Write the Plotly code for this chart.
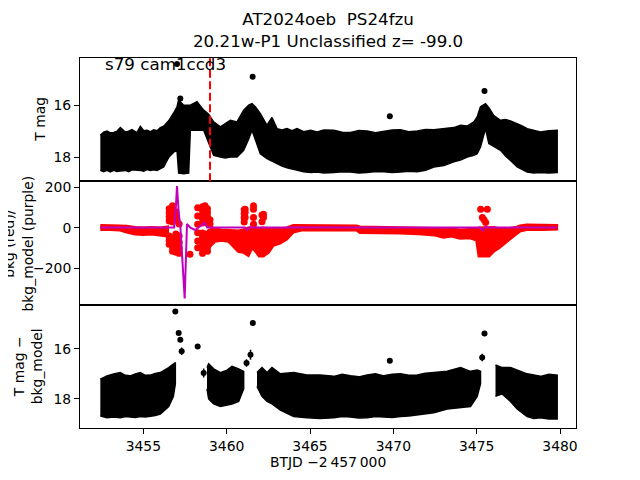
import plotly.graph_objects as go
from plotly.subplots import make_subplots

# ---------------- Top panel: T mag (dense light curve envelope) ----------------
top_t = [3452.42, 3452.62, 3452.82, 3453.02, 3453.22, 3453.42, 3453.62, 3453.92, 3454.12, 3454.32,
         3454.62, 3454.82, 3455.02, 3455.22, 3455.42, 3455.62, 3455.82, 3456.02, 3456.22, 3456.52,
         3456.82, 3457.02, 3457.12, 3457.42, 3457.72, 3457.82, 3458.22, 3458.62, 3458.92, 3459.22,
         3459.62, 3459.92, 3460.22, 3460.62, 3461.02, 3461.32, 3461.52, 3461.72, 3462.02, 3462.42,
         3462.72, 3463.02, 3463.32, 3463.62, 3463.92, 3464.22, 3464.62, 3465.03, 3465.43, 3465.83,
         3466.43, 3466.93, 3467.43, 3467.93, 3468.43, 3468.93, 3469.43, 3469.93, 3470.43, 3470.93,
         3471.43, 3471.93, 3472.43, 3473.03, 3473.63, 3474.03, 3474.43, 3474.83, 3475.03, 3475.23,
         3475.53, 3475.73, 3476.03, 3476.43, 3476.73, 3477.03, 3477.43, 3477.73, 3478.03, 3478.43,
         3478.83, 3479.33, 3479.83]
top_hi = [17.15, 17.03, 16.99, 17.06, 17.05, 17.0, 16.86, 17.03, 17.0, 16.94,
          17.05, 16.81, 16.98, 16.96, 17.02, 16.94, 16.98, 16.86, 16.81, 16.6,
          16.3, 16.06, 15.8, 16.0, 16.0, 16.0, 15.87, 16.19, 16.35, 16.64,
          16.83, 16.7, 16.58, 16.64, 16.19, 16.0, 15.94, 16.06, 16.32, 16.77,
          16.47, 16.9, 16.95, 16.9, 16.98, 16.9, 17.02, 16.96, 17.03, 16.95,
          16.96, 17.04, 17.05, 16.97, 16.99, 17.06, 17.0, 16.95, 16.94, 17.02,
          16.99, 16.93, 16.94, 16.9, 16.86, 16.77, 16.8, 16.64, 16.45, 16.06,
          15.94, 16.1, 16.4, 16.58, 16.55, 16.6, 16.7, 16.8, 16.9, 16.97,
          17.03, 16.98, 16.96]
top_lo = [18.5, 18.55, 18.5, 18.56, 18.5, 18.54, 18.52, 18.5, 18.55, 18.48,
          18.5, 18.5, 18.53, 18.47, 18.5, 18.48, 18.5, 18.45, 18.37, 18.0,
          17.8, 17.73, 18.6, 18.63, 18.6, 16.96, 16.96, 16.96, 17.47, 17.92,
          17.99, 18.02, 17.99, 17.99, 17.73, 17.3, 16.96, 17.3, 17.86, 18.05,
          18.17, 18.24, 18.33, 18.4, 18.46, 18.5, 18.55, 18.58, 18.56, 18.6,
          18.58, 18.55, 18.56, 18.6, 18.58, 18.54, 18.55, 18.58, 18.56, 18.53,
          18.55, 18.5, 18.37, 18.31, 18.17, 18.1, 17.99, 17.92, 17.86, 17.6,
          16.9, 17.47, 17.6, 17.73, 17.95, 18.12, 18.37, 18.48, 18.56, 18.6,
          18.58, 18.6, 18.58]
top_pt_t = [3457.02, 3457.22, 3461.56, 3469.79, 3475.47]
top_pt_m = [14.42, 15.74, 14.91, 16.42, 15.46]
top_pt_e = [0.06, 0.06, 0.05, 0.05, 0.05]
vline_t = 3459.0

# ---------------- Middle panel: bkg (red) and bkg_model (purple) ----------------
red1_t = [3452.42, 3453.0, 3453.6, 3454.0, 3454.5, 3455.0, 3455.5, 3456.0, 3456.45]
red1_hi = [12, 12, 10, 8, 2, 0, 2, 0, 5]
red1_lo = [-8, -8, -10, -20, -30, -32, -30, -35, -40]

red2_t = [3459.0, 3459.3, 3459.7, 3460.1, 3460.4, 3460.7, 3461.0, 3461.3, 3461.5, 3461.7,
          3461.95, 3462.2, 3462.5, 3462.8, 3463.2, 3463.6, 3464.0, 3464.5, 3465.2, 3466.0,
          3467.8, 3468.0, 3469.0, 3470.4, 3471.5, 3472.5, 3473.0, 3473.5, 3474.0, 3474.6,
          3475.0, 3475.14, 3475.74, 3476.04, 3476.34, 3476.74, 3477.34, 3477.6, 3478.0, 3479.0,
          3479.8]
red2_hi = [5, -5, -10, -12, -15, -15, -10, 0, 2, 0,
           -2, 0, -5, -8, -5, 0, 12, 12, 12, 12,
           10, 5, 3, 0, 0, -2, -8, -5, -10, -8,
           -5, 0, 0, 2, -5, -5, 2, 10, 15, 15,
           12]
red2_lo = [-90, -65, -60, -65, -90, -115, -120, -135, -100, -110,
           -138, -138, -120, -85, -75, -55, -20, -10, -8, -8,
           -10, -22, -22, -25, -28, -35, -45, -40, -50, -48,
           -60, -138, -138, -113, -97, -72, -31, -15, -8, -8,
           -5]

red_pt_t = ([3456.55] * 7 + [3456.75] * 9 + [3456.95] * 7 + [3457.15] * 5 + [3457.8]
            + [3458.26] * 6 + [3458.55] * 11 + [3458.7] * 10 + [3458.85] * 9 + [3459.0] * 4
            + [3461.05] * 7 + [3461.11] * 3 + [3461.61] * 4 + [3462.21] * 2 + [3462.12] * 2
            + [3475.24, 3475.64, 3475.34, 3475.44, 3475.54])
red_pt_v = ([95, 75, 55, 35, -40, -60, -80]
            + [110, 90, 70, 50, 30, -50, -70, -95, -115]
            + [80, 60, 40, -30, -60, -90, -120]
            + [20, -40, -70, -100, -125]
            + [-130]
            + [100, 59, 18, -23, -64, -97]
            + [105, 85, 65, 45, 25, -25, -45, -65, -85, -105, -125]
            + [110, 90, 70, 50, 30, -30, -50, -70, -90, -110]
            + [95, 75, 55, 35, -35, -55, -75, -95, -115]
            + [40, 20, -20, -40]
            + [90, 70, 50, 30, -30, -60, -90]
            + [92, 76, 52]
            + [109, 92, 52, 18]
            + [68, 52]
            + [64, 31]
            + [92, 92, 52, 40, 27])

pur_t = [3452.42, 3456.85, 3456.95, 3457.02, 3457.12, 3457.22, 3457.48, 3457.55, 3457.62, 3457.82,
         3458.12, 3458.35, 3458.68, 3458.83, 3461.1, 3461.25, 3461.4, 3461.6, 3475.2, 3475.35,
         3475.5, 3475.7, 3479.83]
pur_v = [2, 2, 100, 207, 80, 10, -347, -150, 20, 2,
         -10, 5, 26, 2, 2, -10, 5, 2, 2, -12,
         5, 2, 2]

# ---------------- Bottom panel: T mag - bkg_model ----------------
bot1_t = [3452.42, 3452.82, 3453.22, 3453.62, 3453.92, 3454.22, 3454.52, 3454.82, 3455.12, 3455.42,
          3455.72, 3456.02, 3456.52, 3456.8, 3456.92]
bot1_hi = [17.21, 17.08, 17.0, 16.95, 17.06, 17.08, 17.0, 16.95, 17.06, 17.05,
           16.98, 16.95, 16.75, 16.6, 16.55]
bot1_lo = [18.68, 18.75, 18.72, 18.75, 18.7, 18.72, 18.74, 18.7, 18.72, 18.68,
           18.66, 18.6, 18.3, 17.9, 17.4]

bot2_t = [3458.82, 3458.92, 3459.22, 3459.62, 3460.02, 3460.32, 3460.72, 3461.02]
bot2_hi = [16.75, 16.6, 16.8, 16.95, 16.85, 16.7, 16.8, 16.9]
bot2_lo = [17.6, 18.0, 18.2, 18.3, 18.25, 18.2, 18.1, 17.6]

bot3_t = [3461.82, 3462.12, 3462.42, 3462.72, 3463.22, 3464.02, 3464.82, 3465.6, 3466.43, 3466.93,
          3467.43, 3467.93, 3468.43, 3468.93, 3469.43, 3469.93, 3470.43, 3470.93, 3471.43, 3471.93,
          3472.43, 3473.23, 3474.03, 3474.63, 3475.03, 3475.23]
bot3_hi = [16.95, 16.75, 16.95, 16.75, 17.0, 16.95, 17.05, 17.05, 17.1, 17.02,
           17.08, 17.12, 17.05, 17.0, 17.08, 17.02, 17.0, 17.06, 17.05, 16.98,
           16.95, 16.9, 16.75, 16.9, 16.85, 16.9]
bot3_lo = [17.5, 17.9, 18.1, 18.2, 18.45, 18.7, 18.75, 18.78, 18.75, 18.7,
           18.72, 18.76, 18.75, 18.7, 18.72, 18.74, 18.7, 18.68, 18.65, 18.6,
           18.55, 18.4, 18.35, 18.3, 17.9, 17.4]

bot4_t = [3476.13, 3476.33, 3476.53, 3477.03, 3477.43, 3478.03, 3478.43, 3478.83, 3479.33, 3479.83]
bot4_hi = [16.65, 16.7, 16.75, 16.75, 16.85, 17.0, 17.05, 17.1, 17.02, 17.05]
bot4_lo = [17.9, 17.85, 17.8, 18.1, 18.4, 18.7, 18.78, 18.75, 18.8, 18.8]

bot_pt_t = [3456.92, 3457.12, 3457.22, 3457.3, 3458.26, 3458.62, 3461.19, 3461.43, 3461.57, 3469.79, 3475.33, 3475.47]
bot_pt_m = [14.51, 15.37, 15.64, 16.1, 15.91, 16.97, 16.57, 16.24, 14.97, 16.48, 16.35, 15.39]
bot_pt_e = [0.05, 0.07, 0.08, 0.15, 0.08, 0.18, 0.15, 0.2, 0.05, 0.05, 0.15, 0.06]

x_ticks = [3455, 3460, 3465, 3470, 3475, 3480]
title_text = "AT2024oeb\u00a0 PS24fzu<br>20.21w-P1 Unclassified z= -99.0"
field_text = "s79 cam1ccd3"

FONT = "DejaVu Sans"


def band(segments):
    xs, ys = [], []
    for t, hi, lo in segments:
        if xs:
            xs.append(None)
            ys.append(None)
        xs += list(t) + list(t)[::-1]
        ys += list(hi) + list(lo)[::-1]
    return xs, ys


fig = make_subplots(rows=3, cols=1, shared_xaxes=True, vertical_spacing=0)

# top
bx, by = band([(top_t, top_hi, top_lo)])
fig.add_trace(go.Scatter(x=bx, y=by, fill="toself", fillcolor="black", mode="lines",
                         line=dict(color="black", width=1.5), hoverinfo="skip"), row=1, col=1)
fig.add_trace(go.Scatter(x=top_pt_t, y=top_pt_m, mode="markers",
                         marker=dict(color="black", size=6),
                         error_y=dict(type="data", array=top_pt_e, color="black", thickness=1.5, width=0)),
              row=1, col=1)
fig.add_vline(x=vline_t, line=dict(color="red", width=2, dash="8px,3.5px"), row=1, col=1)

# middle
rx, ry = band([(red1_t, red1_hi, red1_lo), (red2_t, red2_hi, red2_lo)])
fig.add_trace(go.Scatter(x=rx, y=ry, fill="toself", fillcolor="red", mode="lines",
                         line=dict(color="red", width=3), hoverinfo="skip"), row=2, col=1)
fig.add_trace(go.Scatter(x=red_pt_t, y=red_pt_v, mode="markers",
                         marker=dict(color="red", size=7)), row=2, col=1)
fig.add_trace(go.Scatter(x=pur_t, y=pur_v, mode="lines",
                         line=dict(color="#bf00bf", width=2)), row=2, col=1)

# bottom
gx, gy = band([(bot1_t, bot1_hi, bot1_lo), (bot2_t, bot2_hi, bot2_lo),
               (bot3_t, bot3_hi, bot3_lo), (bot4_t, bot4_hi, bot4_lo)])
fig.add_trace(go.Scatter(x=gx, y=gy, fill="toself", fillcolor="black", mode="lines",
                         line=dict(color="black", width=1.5), hoverinfo="skip"), row=3, col=1)
fig.add_trace(go.Scatter(x=bot_pt_t, y=bot_pt_m, mode="markers",
                         marker=dict(color="black", size=6),
                         error_y=dict(type="data", array=bot_pt_e, color="black", thickness=1.5, width=0)),
              row=3, col=1)

axis_common = dict(showline=True, linecolor="black", linewidth=1, mirror=True,
                   showgrid=False, zeroline=False, tickcolor="black", ticklen=5, tickwidth=1,
                   tickfont=dict(family=FONT, size=13.9, color="black"))

for r in (1, 2, 3):
    fig.update_xaxes(range=[3451.2, 3480.96], tickvals=x_ticks, row=r, col=1, **axis_common)
fig.update_xaxes(ticks="", showticklabels=False, row=1, col=1)
fig.update_xaxes(ticks="", showticklabels=False, row=2, col=1)
fig.update_xaxes(ticks="outside", showticklabels=True, row=3, col=1)

fig.update_yaxes(range=[18.92, 14.19], tickvals=[16, 18], ticks="outside", row=1, col=1, **axis_common)
fig.update_yaxes(range=[-378, 230], tickvals=[-200, 0, 200], ticks="outside", row=2, col=1, **axis_common)
fig.update_yaxes(range=[19.16, 14.24], tickvals=[16, 18], ticks="outside", row=3, col=1, **axis_common)

lab = dict(family=FONT, size=13.9, color="black")
annotations = [
    dict(text=title_text, xref="paper", yref="paper", x=0.5, y=1, xanchor="center", yanchor="bottom",
         yshift=5, showarrow=False, font=dict(family=FONT, size=16.7, color="black")),
    dict(text=field_text, xref="x domain", yref="y domain", x=0.046, y=0.951, xanchor="left",
         yanchor="middle", showarrow=False, font=dict(family=FONT, size=16.7, color="black")),
    dict(text="T mag", xref="paper", yref="y domain", x=-0.0806, y=0.5, xanchor="center",
         yanchor="middle", textangle=-90, showarrow=False, font=lab),
    dict(text="bkg (red)/<br>bkg_model (purple)", xref="paper", yref="y2 domain", x=-0.124, y=0.5,
         xanchor="center", yanchor="middle", textangle=-90, showarrow=False, font=lab),
    dict(text="T mag \u2212<br>bkg_model", xref="paper", yref="y3 domain", x=-0.105, y=0.5,
         xanchor="center", yanchor="middle", textangle=-90, showarrow=False, font=lab),
    dict(text="BTJD \u22122\u2009457\u2009000", xref="paper", yref="paper", x=0.5, y=0, xanchor="center",
         yanchor="middle", yshift=-34, showarrow=False, font=lab),
]

# page body adds an 8 px margin, so the figure is 632x472 to fill the 640x480 window
fig.update_layout(width=632, height=472, margin=dict(l=72, r=64, t=50, b=52),
                  plot_bgcolor="white", paper_bgcolor="white", showlegend=False,
                  annotations=annotations, font=dict(family=FONT, color="black"))

fig.write_html("out.html")
